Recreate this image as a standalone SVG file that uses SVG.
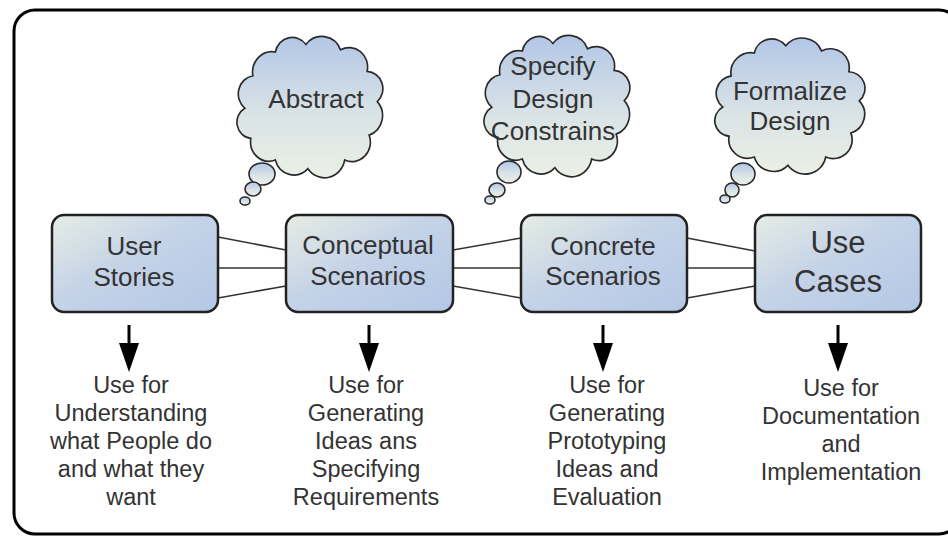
<svg xmlns="http://www.w3.org/2000/svg" width="948" height="538" viewBox="0 0 948 538">
  <defs>
    <linearGradient id="boxFill" x1="0" y1="0" x2="1" y2="1">
      <stop offset="0" stop-color="#e6ede4"/>
      <stop offset="0.45" stop-color="#c5d3e7"/>
      <stop offset="1" stop-color="#b4c7e6"/>
    </linearGradient>
    <linearGradient id="cloudFill" x1="0" y1="0" x2="0" y2="1">
      <stop offset="0" stop-color="#b2c6e6"/>
      <stop offset="0.55" stop-color="#d9e3e6"/>
      <stop offset="1" stop-color="#ebf0e6"/>
    </linearGradient>
    <!-- scalloped cloud outline, centred on the origin -->
    <path id="cloud" d="M-4,-57 A20,20 0 0 1 30,-52 A18,18 0 0 1 56,-32 A16,16 0 0 1 66,-4 A19,19 0 0 1 58,27 A18,18 0 0 1 34,50 A20,20 0 0 1 -2,58 A19,19 0 0 1 -34,50 A18,18 0 0 1 -58,30 A15,15 0 0 1 -64,2 A17,17 0 0 1 -56,-28 A19,19 0 0 1 -34,-50 A17,17 0 0 1 -4,-57 Z"/>
  </defs>
  <style>
    .frame { fill: #ffffff; stroke: #000000; stroke-width: 3; }
    .box { fill: url(#boxFill); stroke: #222222; stroke-width: 2.5; }
    .cloud { fill: url(#cloudFill); stroke: #2a2a2a; stroke-width: 1.6; }
    .link { stroke: #333333; stroke-width: 1.6; fill: none; }
    .shaft { stroke: #000000; stroke-width: 3; }
    .head { fill: #000000; }
    text { font-family: "Liberation Sans", Arial, sans-serif; fill: #333333; text-anchor: middle; }
    .lbl { font-size: 26px; }
    .big { font-size: 31px; }
    .note { font-size: 23.5px; }
  </style>

  <rect class="frame" x="14" y="10" width="946" height="524" rx="21" ry="21"/>

  <!-- thought clouds -->
  <g id="cloud-abstract">
    <use href="#cloud" class="cloud" transform="translate(310,106) scale(1.02,1.08)"/>
    <ellipse class="cloud" cx="262" cy="174" rx="13" ry="11"/>
    <ellipse class="cloud" cx="253" cy="189" rx="8" ry="7"/>
    <ellipse class="cloud" cx="245" cy="201" rx="5" ry="4"/>
    <text class="lbl" x="316" y="108">Abstract</text>
  </g>
  <g id="cloud-specify">
    <use href="#cloud" class="cloud" transform="translate(557,105) scale(1.02,1.08)"/>
    <ellipse class="cloud" cx="509" cy="172" rx="12" ry="11"/>
    <ellipse class="cloud" cx="497" cy="190" rx="8" ry="7"/>
    <ellipse class="cloud" cx="490" cy="200" rx="5" ry="4"/>
    <text class="lbl" x="553" y="75">Specify</text>
    <text class="lbl" x="553" y="108">Design</text>
    <text class="lbl" x="553" y="140">Constrains</text>
  </g>
  <g id="cloud-formalize">
    <use href="#cloud" class="cloud" transform="translate(790,105) scale(1.05,1.04)"/>
    <ellipse class="cloud" cx="743" cy="174" rx="12" ry="11"/>
    <ellipse class="cloud" cx="732" cy="190" rx="7" ry="7"/>
    <ellipse class="cloud" cx="725" cy="199" rx="5" ry="4"/>
    <text class="lbl" x="790" y="100">Formalize</text>
    <text class="lbl" x="790" y="130">Design</text>
  </g>

  <!-- connectors between the stage boxes and arrows down to their uses -->
  <g id="connectors">
    <line class="link" x1="218" y1="237" x2="286" y2="250"/>
    <line class="link" x1="218" y1="268" x2="286" y2="268"/>
    <line class="link" x1="218" y1="298" x2="286" y2="286"/>
    <line class="link" x1="453" y1="250" x2="521" y2="238"/>
    <line class="link" x1="453" y1="268" x2="521" y2="268"/>
    <line class="link" x1="453" y1="286" x2="521" y2="298"/>
    <line class="link" x1="687" y1="238" x2="755" y2="251"/>
    <line class="link" x1="687" y1="268" x2="755" y2="268"/>
    <line class="link" x1="687" y1="298" x2="755" y2="286"/>

    <line class="shaft" x1="129" y1="325" x2="129" y2="346"/>
    <polygon class="head" points="119,343 139,343 129,372"/>
    <line class="shaft" x1="369" y1="325" x2="369" y2="346"/>
    <polygon class="head" points="359,343 379,343 369,372"/>
    <line class="shaft" x1="603" y1="325" x2="603" y2="346"/>
    <polygon class="head" points="593,343 613,343 603,372"/>
    <line class="shaft" x1="838" y1="325" x2="838" y2="346"/>
    <polygon class="head" points="828,343 848,343 838,372"/>
  </g>

  <!-- stage boxes -->
  <g id="user-stories">
    <rect class="box" x="52" y="215" width="166" height="97" rx="12" ry="12"/>
    <text class="lbl" x="134" y="255">User</text>
    <text class="lbl" x="134" y="286">Stories</text>
  </g>
  <g id="conceptual-scenarios">
    <rect class="box" x="286" y="215" width="167" height="97" rx="12" ry="12"/>
    <text class="lbl" x="368" y="254">Conceptual</text>
    <text class="lbl" x="368" y="285">Scenarios</text>
  </g>
  <g id="concrete-scenarios">
    <rect class="box" x="521" y="215" width="166" height="97" rx="12" ry="12"/>
    <text class="lbl" x="603" y="255">Concrete</text>
    <text class="lbl" x="603" y="285">Scenarios</text>
  </g>
  <g id="use-cases">
    <rect class="box" x="755" y="215" width="166" height="97" rx="12" ry="12"/>
    <text class="big" x="838" y="253">Use</text>
    <text class="big" x="838" y="292">Cases</text>
  </g>

  <!-- what each stage is used for -->
  <g id="use-user-stories">
    <text class="note" x="131" y="393">Use for</text>
    <text class="note" x="131" y="421">Understanding</text>
    <text class="note" x="131" y="449">what People do</text>
    <text class="note" x="131" y="477">and what they</text>
    <text class="note" x="131" y="505">want</text>
  </g>
  <g id="use-conceptual">
    <text class="note" x="366" y="393">Use for</text>
    <text class="note" x="366" y="421">Generating</text>
    <text class="note" x="366" y="449">Ideas ans</text>
    <text class="note" x="366" y="477">Specifying</text>
    <text class="note" x="366" y="505">Requirements</text>
  </g>
  <g id="use-concrete">
    <text class="note" x="607" y="393">Use for</text>
    <text class="note" x="607" y="421">Generating</text>
    <text class="note" x="607" y="449">Prototyping</text>
    <text class="note" x="607" y="477">Ideas and</text>
    <text class="note" x="607" y="505">Evaluation</text>
  </g>
  <g id="use-cases-note">
    <text class="note" x="841" y="396">Use for</text>
    <text class="note" x="841" y="424">Documentation</text>
    <text class="note" x="841" y="452">and</text>
    <text class="note" x="841" y="480">Implementation</text>
  </g>
</svg>
